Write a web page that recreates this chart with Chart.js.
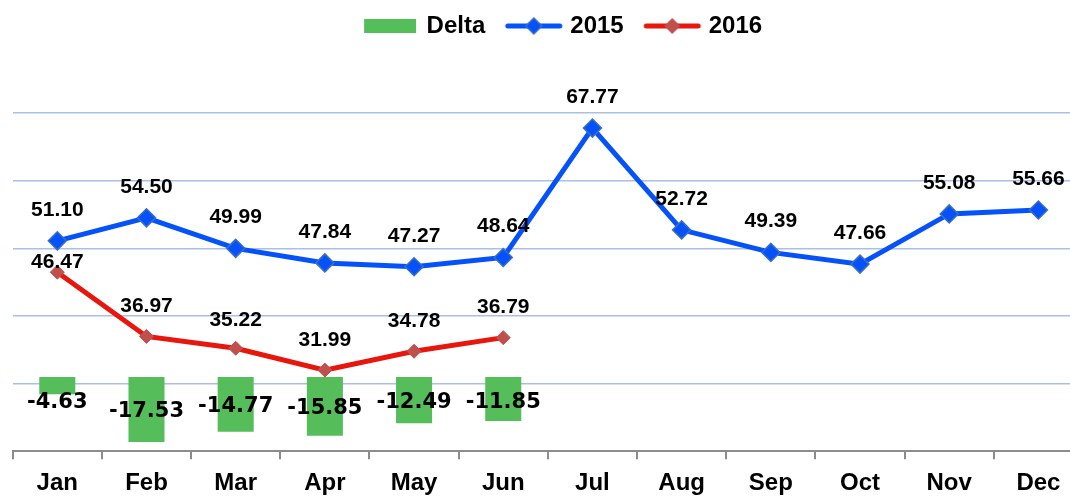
<!DOCTYPE html>
<html>
<head>
<meta charset="utf-8">
<script src="https://cdn.jsdelivr.net/npm/chart.js@4.4.1/dist/chart.umd.min.js"></script>
<style>
  html, body { margin: 0; padding: 0; background: #fff; overflow: hidden; }
  #wrap { width: 1096px; height: 496px; }
</style>
</head>
<body>
<div id="wrap"><canvas id="chart"></canvas></div>
<script>
const months = ['Jan', 'Feb', 'Mar', 'Apr', 'May', 'Jun', 'Jul', 'Aug', 'Sep', 'Oct', 'Nov', 'Dec'];
const delta = [-4.63, -17.53, -14.77, -15.85, -12.49, -11.85, null, null, null, null, null, null];
const sales2015 = [51.10, 54.50, 49.99, 47.84, 47.27, 48.64, 67.77, 52.72, 49.39, 47.66, 55.08, 55.66];
const sales2016 = [46.47, 36.97, 35.22, 31.99, 34.78, 36.79, null, null, null, null, null, null];

const GREEN = '#55BD5A';
const BLUE = '#0552FA';
const RED = '#E8170E';
const labelFont = 'bold 21px "Liberation Sans", Arial, sans-serif';
const deltaFont = 'bold 21px "DejaVu Sans", Verdana, sans-serif';

// how far above the point each line label sits
const lift2015 = 31;
const lift2016 = [10, 30, 28, 30, 30, 30];

// legend swatches
function swatchBox() {
    const c = document.createElement('canvas');
    c.width = 56; c.height = 16;
    const ctx = c.getContext('2d');
    ctx.fillStyle = GREEN;
    ctx.fillRect(2, 1, 52, 14);
    return c;
}
function swatchLine(lineColor, fill, stroke, r) {
    const c = document.createElement('canvas');
    c.width = 60; c.height = 22;
    const ctx = c.getContext('2d');
    ctx.strokeStyle = lineColor;
    ctx.lineWidth = 5;
    ctx.lineCap = 'round';
    ctx.beginPath();
    ctx.moveTo(4, 11);
    ctx.lineTo(56, 11);
    ctx.stroke();
    ctx.beginPath();
    ctx.moveTo(30, 11 - r);
    ctx.lineTo(30 + r, 11);
    ctx.lineTo(30, 11 + r);
    ctx.lineTo(30 - r, 11);
    ctx.closePath();
    ctx.fillStyle = fill;
    ctx.fill();
    ctx.strokeStyle = stroke;
    ctx.lineWidth = 1.5;
    ctx.stroke();
    return c;
}
const legendIcons = [swatchBox(), swatchLine(BLUE, BLUE, '#3B6FC2', 8), swatchLine(RED, '#C0504D', '#C0504D', 7)];

const valueLabels = {
    id: 'valueLabels',
    afterDatasetsDraw(chart) {
        const ctx = chart.ctx;
        ctx.save();
        ctx.fillStyle = '#000';
        ctx.textAlign = 'center';
        ctx.textBaseline = 'middle';
        chart.data.datasets.forEach((ds, i) => {
            const meta = chart.getDatasetMeta(i);
            meta.data.forEach((el, j) => {
                const v = ds.data[j];
                if (v === null || v === undefined) return;
                if (ds.type === 'bar') {
                    ctx.font = deltaFont;
                    const y = Math.max((el.base + el.y) / 2 + 2, el.base + 26);
                    ctx.fillText(v.toFixed(2), el.x, y);
                } else {
                    ctx.font = labelFont;
                    const lift = i === 1 ? lift2015 : lift2016[j];
                    ctx.fillText(v.toFixed(2), el.x, el.y - lift);
                }
            });
        });
        ctx.restore();
    }
};

// Excel put the legend a bit right of centre and close to the top
const legendShift = {
    id: 'legendShift',
    afterLayout(chart) {
        const lg = chart.legend;
        lg.left += 16; lg.right += 16;
        lg.top -= 65; lg.bottom -= 65;
    }
};

const ctx = document.getElementById('chart').getContext('2d');
new Chart(ctx, {
    type: 'bar',
    data: {
        labels: months,
        datasets: [
            {
                type: 'bar',
                label: 'Delta',
                data: delta,
                backgroundColor: GREEN,
                yAxisID: 'y2',
                categoryPercentage: 1,
                barPercentage: 0.404,
                order: 3
            },
            {
                type: 'line',
                label: '2015',
                data: sales2015,
                borderColor: BLUE,
                borderWidth: 5,
                pointStyle: 'rectRot',
                pointRadius: 9,
                pointBackgroundColor: BLUE,
                pointBorderColor: '#3B6FC2',
                pointBorderWidth: 1.5,
                yAxisID: 'y',
                order: 1
            },
            {
                type: 'line',
                label: '2016',
                data: sales2016,
                borderColor: RED,
                borderWidth: 5,
                pointStyle: 'rectRot',
                pointRadius: 7,
                pointBackgroundColor: '#C0504D',
                pointBorderColor: '#C0504D',
                pointBorderWidth: 1,
                yAxisID: 'y',
                order: 2
            }
        ]
    },
    options: {
        responsive: true,
        maintainAspectRatio: false,
        animation: false,
        layout: {
            padding: { left: 12.7, right: 13, top: 55, bottom: -12 }
        },
        plugins: {
            legend: {
                position: 'top',
                labels: {
                    usePointStyle: true,
                    pointStyleWidth: 49,
                    boxHeight: 16,
                    padding: 24,
                    color: '#000',
                    font: { family: '"Liberation Sans", Arial, sans-serif', size: 24, weight: 'bold' },
                    generateLabels(chart) {
                        return chart.data.datasets.map((ds, i) => ({
                            text: ds.label,
                            pointStyle: legendIcons[i],
                            fillStyle: 'transparent',
                            strokeStyle: 'transparent',
                            lineWidth: 0,
                            datasetIndex: i,
                            hidden: false
                        }));
                    }
                }
            },
            tooltip: { enabled: false }
        },
        scales: {
            x: {
                grid: {
                    drawOnChartArea: false,
                    drawTicks: true,
                    tickLength: 8,
                    color: '#8C8C8C',
                    lineWidth: 2
                },
                border: { display: true, color: '#8C8C8C', width: 2 },
                ticks: {
                    color: '#000',
                    padding: 10,
                    font: { family: '"Liberation Sans", Arial, sans-serif', size: 24, weight: 'bold' }
                }
            },
            y: {
                display: true,
                position: 'left',
                min: 20,
                max: 70,
                ticks: { stepSize: 10, display: false },
                grid: { color: '#AABFE6', lineWidth: 1.5, drawTicks: false },
                border: { display: false }
            },
            y2: {
                display: false,
                position: 'right',
                min: -20,
                max: 71.2,
                grid: { drawOnChartArea: false }
            }
        }
    },
    plugins: [valueLabels, legendShift]
});
</script>
</body>
</html>
